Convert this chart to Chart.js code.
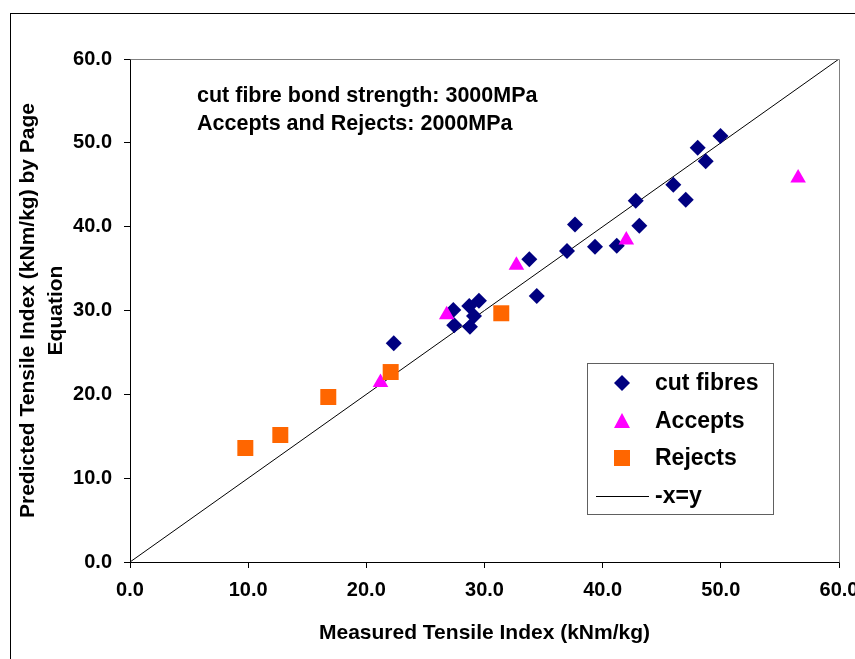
<!DOCTYPE html>
<html><head><meta charset="utf-8">
<script src="https://cdn.jsdelivr.net/npm/chart.js@4.4.1/dist/chart.umd.min.js"></script>
<style>html,body{margin:0;padding:0;background:#fff;}</style>
</head><body>
<canvas id="c" width="855" height="659"></canvas>
<script>
// ---- data ----
const cutX = [49.97, 48.04, 48.72, 45.98, 47.03, 42.80, 43.10, 37.66, 41.19, 39.35, 36.98, 33.79, 34.42, 27.36, 29.53, 28.71, 29.11, 27.44, 28.77, 22.32];
const cutY = [50.82, 49.42, 47.80, 45.01, 43.22, 43.10, 40.12, 40.26, 37.73, 37.61, 37.10, 36.11, 31.73, 30.06, 31.17, 30.54, 29.35, 28.24, 28.07, 26.09];
const acceptX = [56.54, 42.00, 32.70, 26.80, 21.20];
const acceptY = [45.80, 38.40, 35.40, 29.50, 21.40];
const rejectX = [9.76, 12.72, 16.78, 22.06, 31.42];
const rejectY = [13.60, 15.15, 19.68, 22.66, 29.67];
const lineX = [0, 60];
const lineY = [0, 60];
const tickValues = [0, 10, 20, 30, 40, 50, 60];
const tickLabels = ['0.0', '10.0', '20.0', '30.0', '40.0', '50.0', '60.0'];
const seriesNames = ['cut fibres', 'Accepts', 'Rejects', '-x=y'];
const noteLines = ['cut fibre bond strength: 3000MPa', 'Accepts and Rejects: 2000MPa'];
const xTitle = 'Measured Tensile Index (kNm/kg)';
const yTitle = ['Predicted Tensile Index (kNm/kg) by Page', 'Equation'];

const FONT = "'Liberation Sans', Arial, Helvetica, sans-serif";
const pts = (xs, ys) => xs.map((x, i) => ({x: x, y: ys[i]}));
const tickLabel = v => { const i = tickValues.indexOf(v); return i >= 0 ? tickLabels[i] : ''; };

const decor = {
  id: 'decor',
  afterDraw(chart) {
    const ctx = chart.ctx, a = chart.chartArea;
    ctx.save();
    // outer frame
    ctx.strokeStyle = '#000'; ctx.lineWidth = 1;
    ctx.strokeRect(10.5, 13.5, 900, 700);
    // plot area top/right border
    ctx.strokeStyle = '#808080';
    ctx.beginPath();
    ctx.moveTo(Math.round(a.left) + 0.5, Math.round(a.top) + 0.5);
    ctx.lineTo(Math.round(a.right) + 0.5, Math.round(a.top) + 0.5);
    ctx.lineTo(Math.round(a.right) + 0.5, Math.round(a.bottom) + 0.5);
    ctx.stroke();
    // note text
    ctx.fillStyle = '#000';
    ctx.font = 'bold 21.5px ' + FONT;
    ctx.textBaseline = 'alphabetic'; ctx.textAlign = 'left';
    ctx.fillText(noteLines[0], 197, 102);
    ctx.fillText(noteLines[1], 197, 130);
    // legend
    const bx = 587, by = 363, bw = 186, bh = 151;
    ctx.fillStyle = '#fff'; ctx.fillRect(bx, by, bw, bh);
    ctx.strokeStyle = '#606060'; ctx.lineWidth = 1;
    ctx.strokeRect(bx + 0.5, by + 0.5, bw, bh);
    const rows = [383, 421, 458, 496];
    const mx = 622;
    const ds = chart.data.datasets;
    // diamond
    ctx.fillStyle = ds[0].backgroundColor;
    ctx.beginPath(); ctx.moveTo(mx - 8, rows[0]); ctx.lineTo(mx, rows[0] - 8); ctx.lineTo(mx + 8, rows[0]); ctx.lineTo(mx, rows[0] + 8); ctx.closePath(); ctx.fill();
    // triangle
    ctx.fillStyle = ds[1].backgroundColor;
    ctx.beginPath(); ctx.moveTo(mx, rows[1] - 8); ctx.lineTo(mx + 8, rows[1] + 7); ctx.lineTo(mx - 8, rows[1] + 7); ctx.closePath(); ctx.fill();
    // square
    ctx.fillStyle = ds[2].backgroundColor;
    ctx.fillRect(mx - 8, rows[2] - 8, 16, 16);
    // line
    ctx.strokeStyle = '#000'; ctx.lineWidth = 1;
    ctx.beginPath(); ctx.moveTo(596, rows[3] + 0.5); ctx.lineTo(649, rows[3] + 0.5); ctx.stroke();
    ctx.fillStyle = '#000';
    ctx.font = 'bold 23px ' + FONT;
    ctx.textBaseline = 'middle';
    for (let i = 0; i < 4; i++) ctx.fillText(ds[i].label, 655, rows[i] + 1);
    ctx.restore();
  }
};

new Chart(document.getElementById('c'), {
  type: 'scatter',
  data: {
    datasets: [
      {label: seriesNames[0], data: pts(cutX, cutY), pointStyle: 'rectRot', pointRadius: 8, pointHoverRadius: 8,
       backgroundColor: '#000080', borderWidth: 0, order: 3},
      {label: seriesNames[1], data: pts(acceptX, acceptY), pointStyle: 'triangle', pointRadius: 9, pointHoverRadius: 9,
       backgroundColor: '#FF00FF', borderWidth: 0, order: 2},
      {label: seriesNames[2], data: pts(rejectX, rejectY), pointStyle: 'rect', pointRadius: 11.3, pointHoverRadius: 11.3,
       backgroundColor: '#FF6600', borderWidth: 0, order: 1},
      {label: seriesNames[3], data: pts(lineX, lineY), showLine: true, pointRadius: 0, borderColor: '#000',
       borderWidth: 1, backgroundColor: '#000', order: 4}
    ]
  },
  options: {
    responsive: false,
    animation: false,
    events: [],
    layout: {padding: {left: 0, right: 16, top: 59, bottom: 0}},
    plugins: {legend: {display: false}, tooltip: {enabled: false}},
    scales: {
      x: {
        type: 'linear', min: 0, max: 60,
        afterBuildTicks: s => { s.ticks = tickValues.map(v => ({value: v})); },
        afterFit: s => { s.height = 97; s.paddingLeft = 0; s.paddingRight = 0; },
        grid: {display: true, drawOnChartArea: false, drawTicks: true, tickLength: 6, color: '#000', lineWidth: 1},
        border: {display: true, color: '#000', width: 1},
        ticks: {callback: tickLabel, color: '#000', padding: 10, maxRotation: 0, autoSkip: false,
                font: {family: FONT, size: 20, weight: 'bold'}},
        title: {display: true, text: xTitle, color: '#000', padding: {top: 0, bottom: 13},
                font: {family: FONT, size: 21, weight: 'bold', lineHeight: 1.2}}
      },
      y: {
        type: 'linear', min: 0, max: 60,
        afterBuildTicks: s => { s.ticks = tickValues.map(v => ({value: v})); },
        afterFit: s => { s.width = 130; s.paddingTop = 0; s.paddingBottom = 0; },
        grid: {display: true, drawOnChartArea: false, drawTicks: true, tickLength: 6, color: '#000', lineWidth: 1},
        border: {display: true, color: '#000', width: 1},
        ticks: {callback: tickLabel, color: '#000', padding: 12, autoSkip: false,
                font: {family: FONT, size: 20, weight: 'bold'}},
        title: {display: true, text: yTitle, color: '#000', padding: {top: 14, bottom: 0},
                font: {family: FONT, size: 21, weight: 'bold', lineHeight: 1.33}}
      }
    }
  },
  plugins: [decor]
});
</script>
</body></html>
